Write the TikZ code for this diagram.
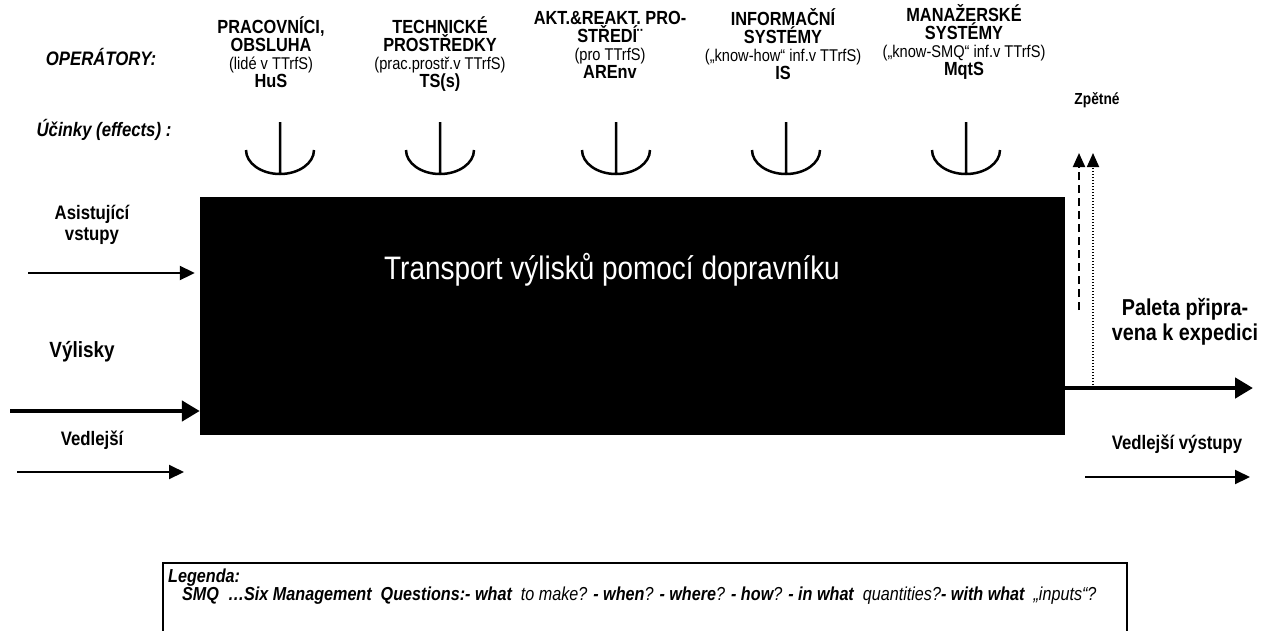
\documentclass[tikz,border=0pt]{standalone}
\usepackage{fontspec}
\setmainfont{Liberation Sans}[FakeStretch=0.86]
\usetikzlibrary{arrows.meta}

\newcommand{\subline}[1]{{\fontsize{17}{18}\selectfont\mdseries #1}}

\begin{document}
\begin{tikzpicture}[x=1pt,y=-1pt,
  hdr/.style={align=center,anchor=base,inner sep=0pt,font=\fontsize{19}{18}\selectfont\bfseries},
  lbl/.style={align=center,inner sep=0pt,font=\fontsize{19.5}{21}\selectfont\bfseries},
  thinarrow/.style={line width=2pt,-{Triangle[length=15pt,width=14pt]}},
  thickarrow/.style={line width=4.5pt,-{Triangle[length=18pt,width=20pt]}},
  effect/.style={line width=2.5pt}]
\path[fill=white,use as bounding box] (0,0) rectangle (1265,630);

% operators row
\node[inner sep=0pt,font=\fontsize{19.5}{17}\selectfont\bfseries\itshape] (ops) at (101,57) {OPERÁTORY:};
\node[inner sep=0pt,font=\fontsize{19.5}{17}\selectfont\bfseries\itshape] (eff) at (104,130) {Účinky (effects) :};
\node[hdr] (hus) at (271,87) {PRACOVNÍCI,\\OBSLUHA\\\subline{(lidé v TTrfS)}\\HuS};
\node[hdr] (ts) at (440,87) {TECHNICKÉ\\PROSTŘEDKY\\\subline{(prac.prostř.v TTrfS)}\\TS(s)};
\node[hdr] (arenv) at (610,78) {AKT.\&REAKT. PRO-\\STŘEDÍ¨\\\subline{(pro TTrfS)}\\AREnv};
\node[hdr] (is) at (783,79) {INFORMAČNÍ\\SYSTÉMY\\\subline{(„know-how“ inf.v TTrfS)}\\IS};
\node[hdr] (mqts) at (964,75) {MANAŽERSKÉ\\SYSTÉMY\\\subline{(„know-SMQ“ inf.v TTrfS)}\\MqtS};
\node[inner sep=0pt,font=\fontsize{16}{16}\selectfont\bfseries] (zpet) at (1097,100) {Zpětné};

% effects
\foreach \x in {280,440,616,786,966}
  \draw[effect] (\x,122) -- (\x,174) (\x-34,150) arc[start angle=180,end angle=0,x radius=34,y radius=24];

% main box
\node[fill=black,minimum width=865pt,minimum height=238pt,inner sep=0pt] (box) at (632.5,316) {};
\node[inner sep=0pt,text=white,font=\fontsize{32.5}{34}\selectfont] (boxtext) at (612,270) {Transport výlisků pomocí dopravníku};

% inputs
\node[lbl] (asist) at (92,225) {Asistující\\vstupy};
\node[lbl,font=\fontsize{22}{24}\selectfont\bfseries] (vylisky) at (82,352) {Výlisky};
\node[lbl] (vedl) at (92,440) {Vedlejší};
\coordinate (asIn) at (28,273);
\coordinate (vyIn) at (10,411);
\coordinate (veIn) at (17,472);
\coordinate (veEnd) at (184,472);
\draw[thinarrow,shorten >=5pt] (asIn) -- (box.west |- asIn);
\draw[thickarrow] (vyIn) -- (box.west |- vyIn);
\draw[thinarrow] (veIn) -- (veEnd);

% outputs
\node[lbl,font=\fontsize{23}{25}\selectfont\bfseries] (paleta) at (1185,322) {Paleta připra-\\vena k expedici};
\node[lbl] (vedlvy) at (1177,444) {Vedlejší výstupy};
\coordinate (outEnd) at (1253,388);
\coordinate (dotS) at (1093,388);
\coordinate (dotE) at (1093,153);
\coordinate (dashS) at (1079,310);
\coordinate (dashE) at (1079,153);
\coordinate (voS) at (1085,477);
\coordinate (voE) at (1250,477);
\draw[thickarrow] (box.east |- outEnd) -- (outEnd);
\draw[line width=2pt,dash pattern=on 8pt off 5pt,-{Triangle[length=14pt,width=12pt]}] (dashS) -- (dashE);
\draw[line width=1.8pt,dash pattern=on 1.5pt off 1.5pt,-{Triangle[length=14pt,width=12pt]}] (dotS) -- (dotE);
\draw[thinarrow] (voS) -- (voE);

% legend
\coordinate (legA) at (163,632);
\coordinate (legB) at (1127,632);
\draw[line width=2pt] (legA) -- (163,563) -- (1127,563) -- (legB);
\node[anchor=base west,inner sep=0pt,font=\fontsize{18.8}{17}\selectfont\bfseries\itshape] (legtitle) at (168,582) {Legenda:};
\node[anchor=base west,inner sep=0pt,font=\fontsize{18.8}{17}\selectfont\itshape] (legtext) at (182,600)
  {\textbf{SMQ \ …Six Management \ Questions:- what} \ to make? \textbf{- when}? \textbf{- where}? \textbf{- how}? \textbf{- in what} \ quantities?\textbf{- with what} \ „inputs“?};
\end{tikzpicture}
\end{document}
